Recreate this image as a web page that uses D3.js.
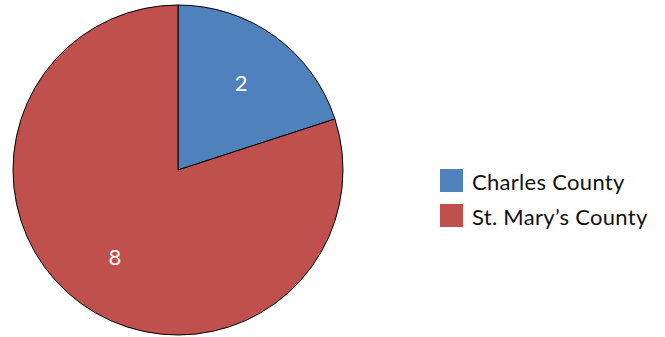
<!DOCTYPE html>
<html>
<head>
<meta charset="utf-8">
<script src="https://cdn.jsdelivr.net/npm/d3@7"></script>
<style>
  html, body { margin: 0; padding: 0; background: #fff; }
  svg { display: block; font-family: Lato, "Noto Sans", sans-serif; }
</style>
</head>
<body>
<svg id="chart" width="665" height="337"></svg>
<script>
// Counts by county
const categories = ["Charles County", "St. Mary\u2019s County"];
const values = [2, 8];
const colors = ["#4F81BD", "#C0504D"];

const svg = d3.select("#chart");
const cx = 178, cy = 170, radius = 165;

const color = d3.scaleOrdinal().domain(categories).range(colors);

const data = categories.map((c, i) => ({ name: c, value: values[i] }));

const pie = d3.pie().value(d => d.value).sort(null);
const arcs = pie(data);

const arc = d3.arc().innerRadius(0).outerRadius(radius);
const labelArc = d3.arc().innerRadius(radius * 0.65).outerRadius(radius * 0.65);

const g = svg.append("g").attr("transform", `translate(${cx},${cy})`);

g.selectAll("path.slice")
  .data(arcs)
  .join("path")
  .attr("class", "slice")
  .attr("d", arc)
  .attr("fill", d => color(d.data.name))
  .attr("stroke", "#000")
  .attr("stroke-width", 1);

g.selectAll("text.val")
  .data(arcs)
  .join("text")
  .attr("class", "val")
  .attr("transform", d => `translate(${labelArc.centroid(d)})`)
  .attr("text-anchor", "middle")
  .attr("dy", "0.36em")
  .attr("fill", "#fff")
  .attr("font-size", 22)
  .text(d => d.data.value);

// Legend
const legend = svg.append("g").attr("transform", "translate(440,169)");
const item = legend.selectAll("g.item")
  .data(categories)
  .join("g")
  .attr("class", "item")
  .attr("transform", (d, i) => `translate(0,${i * 35})`);

item.append("rect")
  .attr("width", 23)
  .attr("height", 23)
  .attr("fill", d => color(d));

item.append("text")
  .attr("x", 32)
  .attr("y", 21)
  .attr("font-size", 22)
  .attr("letter-spacing", 0.3)
  .attr("fill", "#111")
  .text(d => d);
</script>
</body>
</html>
